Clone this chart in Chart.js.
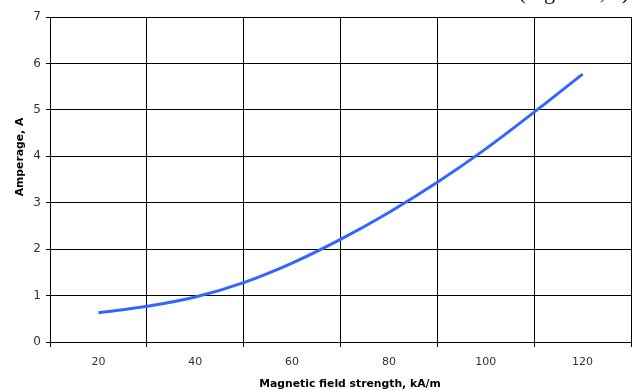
<!DOCTYPE html>
<html>
<head>
<meta charset="utf-8">
<script src="https://cdn.jsdelivr.net/npm/chart.js@4.4.1/dist/chart.umd.min.js"></script>
<style>
  html, body { margin: 0; padding: 0; background: #fff; overflow: hidden; }
  #wrap { position: relative; width: 634px; height: 390px; overflow: hidden; }
  #note { position: absolute; right: 5px; top: -21px; font-family: "Liberation Serif", serif; font-size: 22px; color: #000; white-space: nowrap; }
</style>
</head>
<body>
<div id="wrap">
  <canvas id="c" width="634" height="390"></canvas>
  <div id="note">(Figure 3, 4)</div>
</div>
<script>
const fieldStrength = [20, 30, 40, 50, 60, 70, 80, 90, 100, 110, 120];
const amperage = [0.63, 0.77, 0.97, 1.28, 1.70, 2.21, 2.79, 3.44, 4.16, 4.95, 5.77];
const yTicks = [0, 1, 2, 3, 4, 5, 6, 7];
const xLabelTicks = [20, 40, 60, 80, 100, 120];
const xTitle = 'Magnetic field strength, kA/m';
const yTitle = 'Amperage, A';

const titlePlugin = {
  id: 'titles',
  afterDraw(chart) {
    const ctx = chart.ctx;
    ctx.save();
    ctx.fillStyle = '#000';
    ctx.font = 'bold 10.8px "DejaVu Sans"';
    ctx.textAlign = 'center';
    ctx.textBaseline = 'middle';
    ctx.fillText(xTitle, 350, 384);
    ctx.translate(20, 157);
    ctx.rotate(-Math.PI / 2);
    ctx.fillText(yTitle, 0, 0);
    ctx.restore();
  }
};

new Chart(document.getElementById('c'), {
  type: 'line',
  data: {
    datasets: [{
      data: fieldStrength.map((x, i) => ({ x: x, y: amperage[i] })),
      borderColor: '#3366ff',
      borderWidth: 3,
      pointRadius: 0,
      tension: 0.4,
      fill: false
    }]
  },
  options: {
    responsive: false,
    animation: false,
    devicePixelRatio: 1,
    layout: { padding: { top: 17, right: 3, left: 0, bottom: 0 } },
    plugins: { legend: { display: false }, tooltip: { enabled: false } },
    scales: {
      x: {
        type: 'linear',
        min: 10, max: 130,
        afterFit(s) { s.height = 48; s.paddingLeft = 0; s.paddingRight = 0; },
        ticks: {
          stepSize: 10,
          autoSkip: false,
          maxRotation: 0,
          padding: 9,
          color: '#333',
          font: { family: 'DejaVu Sans', size: 11 },
          callback: v => xLabelTicks.includes(v) ? String(v) : ''
        },
        grid: {
          color: c => (c.tick && c.tick.value % 20 === 10) ? '#000' : 'rgba(0,0,0,0)',
          lineWidth: 1,
          tickLength: 5
        },
        border: { color: '#000', width: 1 }
      },
      y: {
        min: 0, max: 7,
        afterFit(s) { s.width = 50; },
        afterBuildTicks(s) { s.ticks = yTicks.map(v => ({ value: v })); },
        ticks: {
          padding: 5,
          color: '#333',
          font: { family: 'DejaVu Sans', size: 12 }
        },
        grid: { color: '#000', lineWidth: 1, tickLength: 4 },
        border: { color: '#000', width: 1 }
      }
    }
  },
  plugins: [titlePlugin]
});
</script>
</body>
</html>
